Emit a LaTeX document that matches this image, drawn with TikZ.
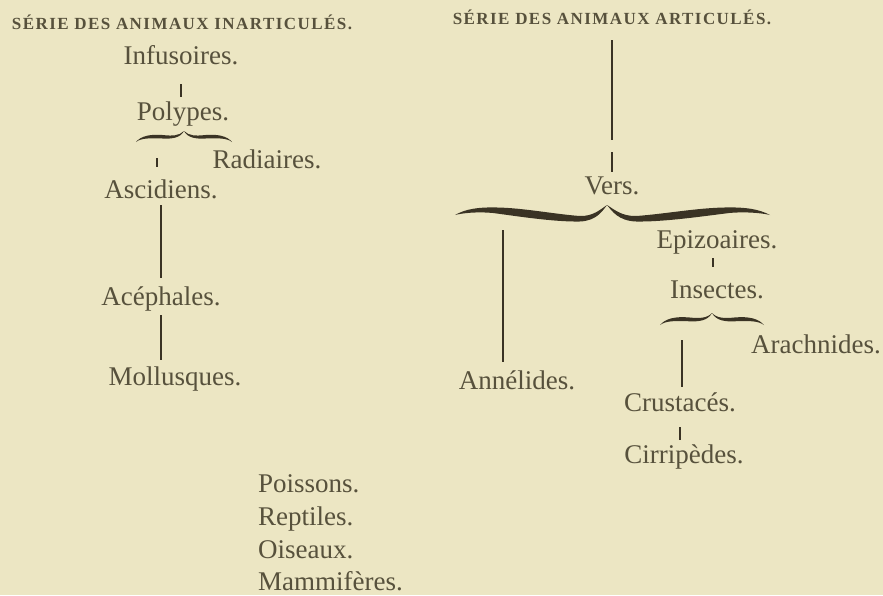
\documentclass[tikz,border=0pt]{standalone}
\usepackage{fontspec}
\setmainfont{Liberation Serif}
\newfontfamily\headfont{Liberation Serif}[LetterSpace=8.5]
\usepackage{tikz}
\usetikzlibrary{calc}
\definecolor{paper}{HTML}{ECE6C3}
\definecolor{ink}{HTML}{57513C}
\definecolor{darkink}{HTML}{3A3324}

\begin{document}
\begin{tikzpicture}[
    x=1pt, y=-1pt,
    every node/.style={inner sep=0pt, text height=19pt, text depth=6pt},
    taxon/.style={font=\fontsize{27}{30}\selectfont, color=ink, anchor=base},
    serieslabel/.style={font=\headfont\bfseries\fontsize{17}{20}\selectfont, color=ink, anchor=base, text height=12pt, text depth=1pt},
    link/.style={draw=darkink, line width=1.3pt},
    heavylink/.style={draw=darkink, line width=2.4pt},
]
\path[use as bounding box, fill=paper] (0,0) rectangle (883,595);
% two series
\node[serieslabel] (inartic) at (182,29) {SÉRIE DES ANIMAUX INARTICULÉS.};
\node[serieslabel] (artic) at (612,24) {SÉRIE DES ANIMAUX ARTICULÉS.};

\node[taxon] (infus) at (181,64) {Infusoires.};
\node[taxon] (polyp) at (183,120) {Polypes.};
\node[taxon] (radia) at (267,168) {Radiaires.};
\node[taxon] (ascid) at (161,198) {Ascidiens.};
\node[taxon] (aceph) at (161,305) {Acéphales.};
\node[taxon] (mollu) at (175,385) {Mollusques.};

\node[taxon] (vers) at (612,194) {Vers.};
\node[taxon] (epizo) at (717,248) {Epizoaires.};
\node[taxon] (insec) at (717,298) {Insectes.};
\node[taxon] (arach) at (816,353) {Arachnides.};
\node[taxon] (annel) at (517,389) {Annélides.};
\node[taxon] (crust) at (680,411) {Crustacés.};
\node[taxon] (cirri) at (684,463) {Cirripèdes.};

\node[taxon, anchor=base west] (poiss) at (258,492) {Poissons.};
\node[taxon, anchor=base west] (repti) at (258,525) {Reptiles.};
\node[taxon, anchor=base west] (oisea) at (258,558) {Oiseaux.};
\node[taxon, anchor=base west, text depth=0pt] (mammi) at (258,590) {Mammifères.};

% braces
\begin{scope}[shift={(184,131)}]
  \foreach \s in {1,-1}
    \fill[darkink, xscale=48*\s] (-1,11) .. controls (-0.9,5) and (-0.7,3) .. (-0.45,4) .. controls (-0.25,5) and (-0.1,5) .. (0,0) .. controls (-0.08,7) and (-0.25,8) .. (-0.45,7.5) .. controls (-0.7,7) and (-0.9,7) .. (-1,11) -- cycle;
\end{scope}
\begin{scope}[shift={(712,313)}]
  \foreach \s in {1,-1}
    \fill[darkink, xscale=52*\s, yscale=1.1] (-1,11) .. controls (-0.9,5) and (-0.7,3) .. (-0.45,4) .. controls (-0.25,5) and (-0.1,5) .. (0,0) .. controls (-0.08,7) and (-0.25,8) .. (-0.45,7.5) .. controls (-0.7,7) and (-0.9,7) .. (-1,11) -- cycle;
\end{scope}
\begin{scope}[shift={(607,205)}]
  \foreach \w in {152,-163}
    \fill[darkink, xscale=\w] (-1,10) .. controls (-0.93,4) and (-0.85,2) .. (-0.72,2.5) .. controls (-0.55,3) and (-0.35,9) .. (-0.18,11) .. controls (-0.09,11.5) and (-0.04,4) .. (0,0) .. controls (-0.03,6) and (-0.07,16) .. (-0.18,16.5) .. controls (-0.35,17) and (-0.6,11) .. (-0.75,8) .. controls (-0.85,6.5) and (-0.95,8) .. (-1,10) -- cycle;
\end{scope}

\coordinate (polyarm) at (157,158);
\coordinate (artictop) at (612,40);
\coordinate (bigarm) at (503,230);
\coordinate (insarm) at (682,340);

\draw[link, shorten <=14pt, shorten >=4pt] (infus.south) -- (infus.south |- polyp.north);
\draw[link, shorten >=12pt] (polyarm) -- (polyarm |- ascid.north);
\draw[link, shorten <=1pt, shorten >=8pt] (ascid.south) -- (aceph.north);
\draw[link, shorten <=4pt, shorten >=6pt] (aceph.south) -- (aceph.south |- mollu.north);
\draw[link, shorten >=35pt] (artictop) -- (vers.north);
\draw[heavylink, shorten <=112pt, shorten >=3pt] (artictop) -- (vers.north);
\draw[heavylink, line width=2pt, shorten >=8pt] (bigarm) -- (bigarm |- annel.north);
\draw[link, shorten <=4pt, shorten >=12pt] ([xshift=-4pt]epizo.south) -- ([xshift=-4pt]epizo.south |- insec.north);
\draw[link, shorten >=5pt] (insarm) -- (insarm |- crust.north);
\draw[link, shorten <=10pt, shorten >=4pt] (crust.south) -- (crust.south |- cirri.north);
\end{tikzpicture}
\end{document}
